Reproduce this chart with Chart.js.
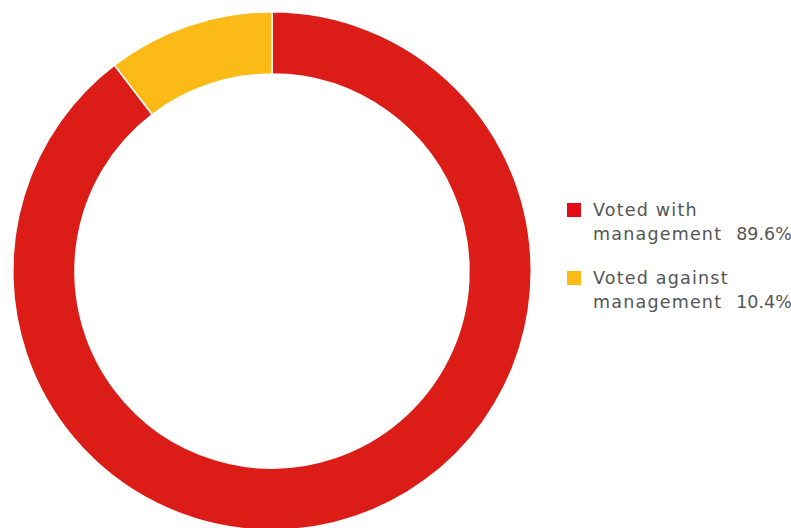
<!DOCTYPE html>
<html>
<head>
<meta charset="utf-8">
<script src="https://cdn.jsdelivr.net/npm/chart.js@4"></script>
<style>
  html, body { margin: 0; padding: 0; background: #fff; overflow: hidden; }
  body { width: 791px; height: 528px; position: relative; font-family: "DejaVu Sans", sans-serif; }
  #wrap { position: absolute; left: 0; top: 0; width: 544px; height: 544px; }
  #legend { position: absolute; left: 567px; top: 198px; color: #555; font-size: 17.5px; letter-spacing: 1.2px; line-height: 24px; white-space: nowrap; }
  .item { position: relative; padding-left: 26px; margin-bottom: 20px; }
  .box { position: absolute; left: 0; top: 5px; width: 14px; height: 14px; }
  .pct { margin-left: 14px; letter-spacing: 0; }
</style>
</head>
<body>
<div id="wrap"><canvas id="myChart"></canvas></div>
<div id="legend"></div>
<script>
const labelLine1 = ['Voted with', 'Voted against'];
const labelLine2 = ['management', 'management'];
const values = [89.6, 10.4];
const colors = ['#DC1C16', '#FBBA16'];
const boxColors = ['#E30B17', '#FBBA16'];

document.addEventListener('DOMContentLoaded', function() {
    const ctx = document.getElementById('myChart').getContext('2d');

    new Chart(ctx, {
        type: 'doughnut',
        data: {
            labels: labelLine1.map((l, i) => l + ' ' + labelLine2[i]),
            datasets: [{
                data: values,
                backgroundColor: colors,
                borderColor: '#fff',
                borderWidth: 1.5
            }]
        },
        options: {
            responsive: true,
            maintainAspectRatio: false,
            animation: false,
            cutout: '76%',
            layout: { padding: { top: 11, left: 12, right: 12, bottom: 13 } },
            plugins: {
                legend: { display: false },
                tooltip: { enabled: false }
            }
        }
    });

    // legend built from the same arrays
    const legend = document.getElementById('legend');
    values.forEach(function(v, i) {
        const item = document.createElement('div');
        item.className = 'item';
        item.innerHTML = '<span class="box" style="background:' + boxColors[i] + '"></span>' +
            labelLine1[i] + '<br>' + labelLine2[i] + '<span class="pct">' + v.toFixed(1) + '%</span>';
        legend.appendChild(item);
    });
});
</script>
</body>
</html>
